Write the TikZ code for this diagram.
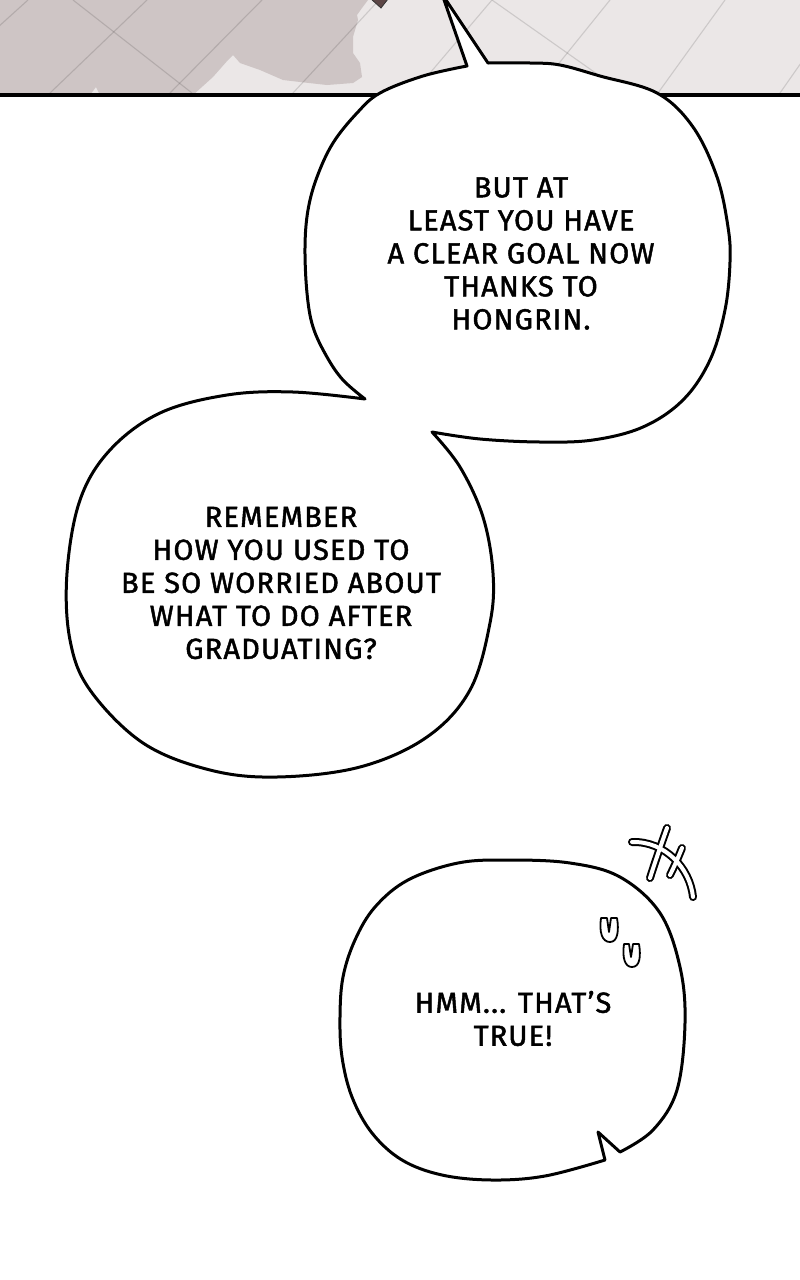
\documentclass[tikz,border=0pt]{standalone}
\usepackage{fontspec}
\setmainfont{Fira Sans}[LetterSpace=4.0,FakeBold=1.6]
\definecolor{panelLight}{HTML}{EBE7E7}
\definecolor{panelDark}{HTML}{CEC5C5}
\definecolor{brownbit}{HTML}{5C4646}
\begin{document}
\begin{tikzpicture}[x=1pt,y=-1pt,
  outl/.style={draw=black, line width=3pt, fill=white, line join=round},
  btxt/.style={align=center, inner sep=0pt, font=\fontsize{29}{33}\selectfont},
  tile/.style={draw=black, opacity=0.13, line width=1.1pt},
  sfxout/.style={draw=black, line width=8pt, line cap=round},
  sfxin/.style={draw=white, line width=4pt, line cap=round},
  blush/.style={draw=black, line width=1.8pt, fill=white, line join=round}]
\useasboundingbox (0,0) rectangle (800,1280);
\fill[white] (0,0) rectangle (800,1280);
% top panel
\fill[panelLight] (0,0) rectangle (800,95);
\fill[panelDark] (0,0) -- (368,0) -- (362,8) -- (357,15) -- (358,20) -- (353,37) -- (353,53) -- (360,63) -- (362,77) -- (353,83) -- (327,85) -- (300,82) -- (283,80) -- (260,70) -- (240,63) -- (233,55) -- (228,60) -- (213,77) -- (193,95) -- (100,95) -- (96,87) -- (90,95) -- (0,95) -- cycle;
\begin{scope}
  \clip (0,0) rectangle (800,94);
  \draw[tile] (28,0) -- (-75,93);
  \draw[tile] (147,0) -- (50,93);
  \draw[tile] (262,0) -- (170,93);
  \draw[tile] (379,0) -- (293,93);
  \draw[tile] (492,0) -- (413,93);
  \draw[tile] (610,0) -- (535,93);
  \draw[tile] (725,0) -- (658,93);
  \draw[tile] (845,0) -- (780,93);
  \draw[tile] (73,0) -- (192,93);
  \draw[tile] (492,0) -- (624,93);
\end{scope}
\filldraw[fill=brownbit, draw=black!80, line width=0.8pt] (371,-1) -- (388,-1) -- (381,8) -- cycle;
\draw[line width=3.5pt] (0,95) -- (800,95);
% merged bubbles 1 and 2
\path[outl] (442,-6) -- (488,63)
  -- plot[smooth, tension=0.6] coordinates {(488,63) (530,63) (560,65) (600,76) (657,93) (693,127) (717,177) (728,227) (730,262) (725,310) (710,360) (683,400) (643,427) (593,440) (540,442) (480,439) (432,432)}
  -- plot[smooth, tension=0.6] coordinates {(432,432) (460,467) (483,517) (493,573) (490,623) (470,690) (427,737) (360,767) (277,777) (210,770) (143,743) (90,690) (70,640) (67,573) (80,500) (110,450) (160,413) (227,395) (293,392) (365,399)}
  -- plot[smooth, tension=0.6] coordinates {(365,399) (343,380) (327,357) (313,327) (307,293) (305,247) (308,210) (317,177) (333,143) (357,113) (380,93) (423,76) (467,66)}
  -- cycle;
\node[btxt] (t1) at (521,253.5) {BUT AT\\LEAST YOU HAVE\\A CLEAR GOAL NOW\\THANKS TO\\HONGRIN.};
\node[btxt] (t2) at (281,583) {REMEMBER\\HOW YOU USED TO\\BE SO WORRIED ABOUT\\WHAT TO DO AFTER\\GRADUATING?};
% bubble 3
\path[outl] (620,1152)
  -- plot[smooth, tension=0.6] coordinates {(620,1152) (653,1130) (677,1090) (685,1023) (680,967) (660,913) (620,877) (570,863) (508,860) (458,863) (408,880) (375,907) (355,940) (343,977) (340,1017) (342,1057) (352,1097) (372,1133) (402,1160) (442,1175) (492,1180) (545,1176) (605,1160)}
  -- (598,1132) -- cycle;
\node[btxt] (t3) at (513,1018.5) {HMM... THAT’S\\TRUE!};
% sound effect strokes
\draw[sfxout] (632,842) .. controls (665,841) and (690,868) .. (693,897);
\draw[sfxout] (667,828) .. controls (661,845) and (655,862) .. (650,878);
\draw[sfxout] (682,848) .. controls (678,858) and (674,867) .. (670,875);
\draw[sfxin] (632,842) .. controls (665,841) and (690,868) .. (693,897);
\draw[sfxin] (667,828) .. controls (661,845) and (655,862) .. (650,878);
\draw[sfxin] (682,848) .. controls (678,858) and (674,867) .. (670,875);
% blush marks
\path[blush] (601,918) .. controls (599,932) and (602,942) .. (610,942) .. controls (618,942) and (619,930) .. (617,918) -- (611,918) -- (609,932) -- (607,918) -- cycle;
\path[blush] (624,944) .. controls (622,958) and (625,967) .. (632,967) .. controls (640,967) and (641,956) .. (639,944) -- (633,944) -- (631,957) -- (629,944) -- cycle;
\end{tikzpicture}
\end{document}
